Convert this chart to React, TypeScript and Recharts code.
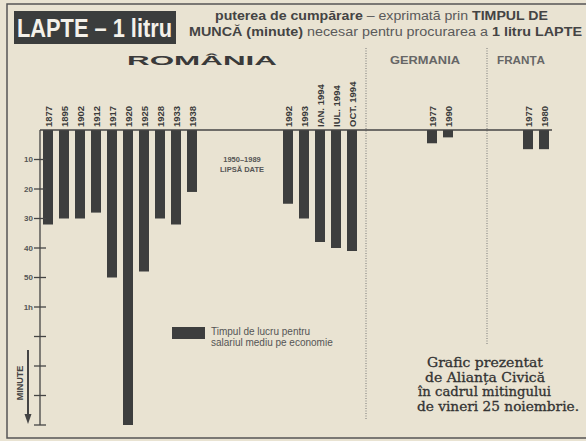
import { Bar, BarChart, XAxis, YAxis } from "recharts";

// minutes of work needed to buy 1 litre of milk
const romaniaYears = ["1877", "1895", "1902", "1912", "1917", "1920", "1925", "1928", "1933", "1938"];
const romaniaMinutes = [32, 30, 30, 28, 50, 100, 48, 30, 32, 21];
const romaniaRecent = ["1992", "1993", "IAN. 1994", "IUL. 1994", "OCT. 1994"];
const romaniaRecentMinutes = [25, 30, 38, 40, 41];
const germanyYears = ["1977", "1990"];
const germanyMinutes = [4.5, 2.5];
const franceYears = ["1977", "1980"];
const franceMinutes = [6.5, 6.5];

const yTicks = [0, 10, 20, 30, 40, 50, 60, 70, 80, 90, 100];
const yTickLabels: Record<number, string> = { 10: "10", 20: "20", 30: "30", 40: "40", 50: "50", 60: "1h" };

interface Row {
  name: string;
  label: string;
  minutes: number | null;
}

const group = (prefix: string, labels: string[], values: number[]): Row[] =>
  labels.map((label, i) => ({ name: `${prefix}-${label}`, label, minutes: values[i] }));

const gap = (id: string, n: number): Row[] =>
  Array.from({ length: n }, (_, i) => ({ name: `gap-${id}-${i}`, label: "", minutes: null }));

const rows: Row[] = [
  ...group("RO", romaniaYears, romaniaMinutes),
  ...gap("a", 5),
  ...group("RO2", romaniaRecent, romaniaRecentMinutes),
  ...gap("b", 4),
  ...group("DE", germanyYears, germanyMinutes),
  ...gap("c", 4),
  ...group("FR", franceYears, franceMinutes),
];

const BAR = "#3d3e3e";
const PAPER = "#e9e3d2";

function XTick({ x, y, payload }: any) {
  const row = rows.find((r) => r.name === payload.value);
  if (!row || !row.label) return null;
  return (
    <text
      x={x}
      y={y - 3}
      transform={`rotate(-90 ${x} ${y - 3})`}
      textAnchor="start"
      dominantBaseline="central"
      fontSize={9.5}
      fontWeight="bold"
      fill="#3a3a3a"
    >
      {row.label}
    </text>
  );
}

function YTick({ x, y, payload }: any) {
  if (payload.value === 0) return null;
  const label = yTickLabels[payload.value] ?? "";
  return (
    <g>
      <line x1={x - 6} x2={x + 6} y1={y} y2={y} stroke="#444" strokeWidth={1.3} />
      {label && (
        <text x={x - 7} y={y} textAnchor="end" dominantBaseline="central" fontSize={8} fontWeight="bold" fill="#555">
          {label}
        </text>
      )}
    </g>
  );
}

function Decorations() {
  return (
    <svg width={586} height={441} style={{ position: "absolute", left: 0, top: 0 }}>
      <rect width={586} height={441} fill={PAPER} />
      {/* frame */}
      <path d="M586 4 H7 V438 H586" fill="none" stroke="#555" strokeWidth={1.5} />

      {/* title */}
      <rect x={14} y={11} width={162} height={33} fill="#3b3d3d" />
      <text x={17} y={37} fontSize={25} fontWeight="bold" fill="#f4f1ea" textLength={155} lengthAdjust="spacingAndGlyphs">
        LAPTE – 1 litru
      </text>
      <text x={215} y={20} fontSize={12} fill="#5a5a5a" textLength={333} lengthAdjust="spacingAndGlyphs">
        <tspan fontWeight="bold" fill="#444">puterea de cumpărare</tspan> – exprimată prin{" "}
        <tspan fontWeight="bold" fill="#444">TIMPUL DE</tspan>
      </text>
      <text x={189} y={36} fontSize={12} fill="#5a5a5a" textLength={393} lengthAdjust="spacingAndGlyphs">
        <tspan fontWeight="bold" fill="#444">MUNCĂ (minute)</tspan> necesar pentru procurarea a{" "}
        <tspan fontWeight="bold" fill="#444">1 litru LAPTE</tspan>
      </text>

      {/* country headers */}
      <text x={127} y={65} fontSize={12} fontWeight="bold" fill="#3a3a3a" textLength={150} lengthAdjust="spacingAndGlyphs">
        ROMÂNIA
      </text>
      <text x={390} y={64} fontSize={10} fontWeight="bold" fill="#666" textLength={70} lengthAdjust="spacingAndGlyphs">
        GERMANIA
      </text>
      <text x={497} y={64} fontSize={10} fontWeight="bold" fill="#666" textLength={48} lengthAdjust="spacingAndGlyphs">
        FRANȚA
      </text>

      {/* dividers */}
      <line x1={366} x2={366} y1={48} y2={420} stroke="#777" strokeWidth={1} strokeDasharray="1 1.5" />
      <line x1={487} x2={487} y1={48} y2={345} stroke="#777" strokeWidth={1} strokeDasharray="1 1.5" />

      {/* missing data note */}
      <text x={242} y={162} textAnchor="middle" fontSize={7.5} fontWeight="bold" fill="#555">
        1950–1989
      </text>
      <text x={242} y={172} textAnchor="middle" fontSize={7.5} fontWeight="bold" fill="#555">
        LIPSĂ DATE
      </text>

      {/* legend */}
      <rect x={172} y={327} width={33} height={12} fill={BAR} />
      <text x={211} y={335} fontSize={10} fill="#555">
        Timpul de lucru pentru
      </text>
      <text x={211} y={346} fontSize={10} fill="#555">
        salariul mediu pe economie
      </text>

      {/* MINUTE arrow */}
      <text
        x={20}
        y={383}
        transform="rotate(-90 20 383)"
        textAnchor="middle"
        dominantBaseline="central"
        fontSize={9}
        fontWeight="bold"
        fill="#444"
      >
        MINUTE
      </text>
      <line x1={28} x2={28} y1={350} y2={416} stroke="#444" strokeWidth={2} />
      <path d="M24.5 414 L28 424 L31.5 414 Z" fill="#444" />

      {/* footnote */}
      <g
        fontFamily="'DejaVu Serif', serif"
        fontSize={12.5}
        fill="#333"
        stroke="#333"
        strokeWidth={0.3}
        lengthAdjust="spacingAndGlyphs"
      >
        <text x={427} y={367} textLength={116} lengthAdjust="spacingAndGlyphs">Grafic prezentat</text>
        <text x={425} y={381.5} textLength={120} lengthAdjust="spacingAndGlyphs">de Alianța Civică</text>
        <text x={418} y={396} textLength={133} lengthAdjust="spacingAndGlyphs">în cadrul mitingului</text>
        <text x={417} y={410.5} textLength={162} lengthAdjust="spacingAndGlyphs">de vineri 25 noiembrie.</text>
      </g>
    </svg>
  );
}

export default function App() {
  return (
    <div
      style={{
        position: "relative",
        width: 586,
        height: 441,
        overflow: "hidden",
        fontFamily: "'Liberation Sans', Arial, sans-serif",
      }}
    >
      <style>{"body{margin:0}"}</style>
      <Decorations />
      <div style={{ position: "absolute", left: 0, top: 0 }}>
        <BarChart width={586} height={441} data={rows} margin={{ top: 80, right: 34, bottom: 16, left: 0 }}>
          <XAxis
            dataKey="name"
            orientation="top"
            height={50}
            interval={0}
            tickSize={0}
            tickMargin={0}
            tickLine={false}
            axisLine={{ stroke: "#444", strokeWidth: 1.5 }}
            tick={<XTick />}
          />
          <YAxis
            type="number"
            reversed
            domain={[0, 100]}
            ticks={yTicks}
            width={40}
            tickSize={0}
            tickMargin={0}
            tickLine={false}
            axisLine={{ stroke: "#444", strokeWidth: 1.3 }}
            tick={<YTick />}
          />
          <Bar dataKey="minutes" fill={BAR} barSize={10} isAnimationActive={false} />
        </BarChart>
      </div>
    </div>
  );
}
